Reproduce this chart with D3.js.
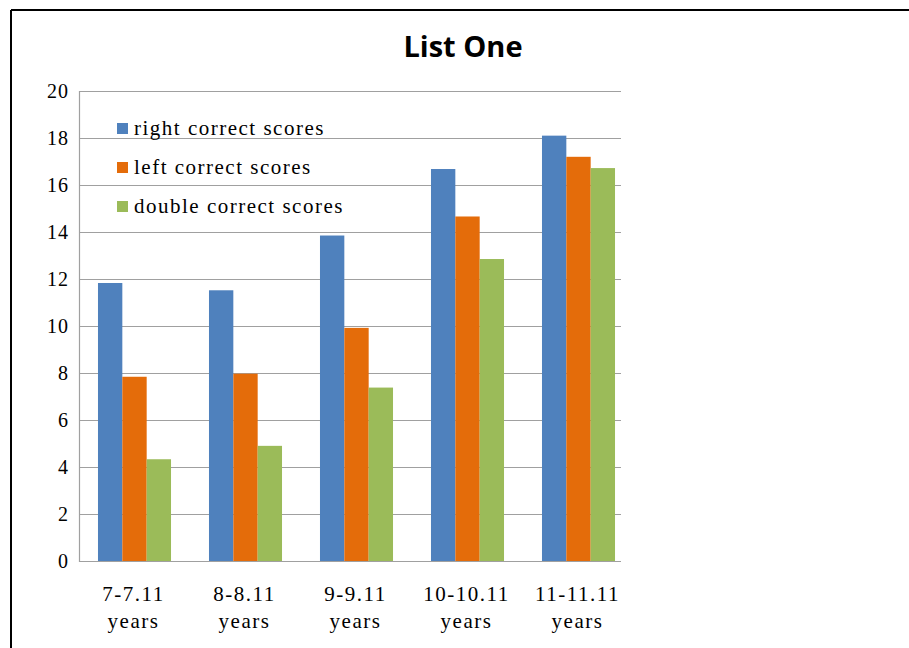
<!DOCTYPE html>
<html>
<head>
<meta charset="utf-8">
<script src="https://cdn.jsdelivr.net/npm/d3@7"></script>
<style>
  body { margin: 0; background: #fff; }
  svg text { font-family: "Liberation Serif", "Times New Roman", serif; }
</style>
</head>
<body>
<svg id="chart" width="909" height="648"></svg>
<script>
var categories = [["7-7.11", "years"], ["8-8.11", "years"], ["9-9.11", "years"], ["10-10.11", "years"], ["11-11.11", "years"]];
var seriesNames = ["right correct scores", "left correct scores", "double correct scores"];
var seriesColors = ["#4f81bd", "#e46c0a", "#9bbb59"];
var rightScores = [11.83, 11.52, 13.85, 16.68, 18.1];
var leftScores = [7.84, 7.97, 9.92, 14.66, 17.2];
var doubleScores = [4.33, 4.9, 7.38, 12.85, 16.72];
var yTicks = [0, 2, 4, 6, 8, 10, 12, 14, 16, 18, 20];

var allSeries = [rightScores, leftScores, doubleScores];

var svg = d3.select("svg#chart");

// outer frame (only top and left edges show in the crop)
svg.append("line").attr("x1", 11).attr("y1", 10).attr("x2", 909).attr("y2", 10)
  .attr("stroke", "#000").attr("stroke-width", 2);
svg.append("line").attr("x1", 11).attr("y1", 10).attr("x2", 11).attr("y2", 648)
  .attr("stroke", "#000").attr("stroke-width", 2);

var plotLeft = 79, plotRight = 621, plotTop = 91, plotBottom = 561;

// categories sit a little wider than the gridlines
var x = d3.scaleBand()
  .domain(d3.range(categories.length))
  .range([plotLeft, plotLeft + 5 * 111])
  .paddingInner(0.342)
  .paddingOuter(0.171);

var x1 = d3.scaleBand()
  .domain(d3.range(seriesNames.length))
  .range([0, x.bandwidth()]);

var y = d3.scaleLinear().domain([0, 20]).range([plotBottom, plotTop]);

// gridlines
svg.selectAll("line.grid")
  .data(yTicks)
  .enter().append("line")
  .attr("class", "grid")
  .attr("x1", plotLeft)
  .attr("x2", plotRight)
  .attr("y1", d => y(d) + 0.5)
  .attr("y2", d => y(d) + 0.5)
  .attr("stroke", "#a0a0a0")
  .attr("stroke-width", 1.2);

// y axis line
svg.append("line")
  .attr("x1", plotLeft + 0.5).attr("x2", plotLeft + 0.5)
  .attr("y1", plotTop).attr("y2", plotBottom + 1)
  .attr("stroke", "#a0a0a0").attr("stroke-width", 1.2);

// y labels
svg.selectAll("text.ylab")
  .data(yTicks)
  .enter().append("text")
  .attr("class", "ylab")
  .attr("x", 69)
  .attr("y", d => y(d))
  .attr("dy", "0.35em")
  .attr("text-anchor", "end")
  .attr("font-size", 20)
  .attr("letter-spacing", 1)
  .attr("fill", "#000")
  .text(d => d);

// bars
var groups = svg.selectAll("g.series")
  .data(allSeries)
  .enter().append("g")
  .attr("class", "series")
  .attr("fill", (d, i) => seriesColors[i]);

groups.each(function(vals, si) {
  d3.select(this).selectAll("rect")
    .data(vals)
    .enter().append("rect")
    .attr("x", (d, ci) => x(ci) + x1(si))
    .attr("y", d => y(d))
    .attr("width", x1.bandwidth())
    .attr("height", d => y(0) - y(d));
});

// x labels
var xlab = svg.selectAll("text.xlab")
  .data(categories)
  .enter().append("text")
  .attr("class", "xlab")
  .attr("x", (d, i) => x(i) + x.bandwidth() / 2 - 1)
  .attr("y", 601)
  .attr("text-anchor", "middle")
  .attr("font-size", 21)
  .attr("letter-spacing", 1.5)
  .attr("fill", "#000");

xlab.selectAll("tspan")
  .data(d => d)
  .enter().append("tspan")
  .attr("x", function() { return d3.select(this.parentNode).attr("x"); })
  .attr("dy", (d, i) => i === 0 ? 0 : 27)
  .text(d => d);

// legend
var legend = svg.selectAll("g.legend")
  .data(seriesNames)
  .enter().append("g")
  .attr("class", "legend")
  .attr("transform", (d, i) => "translate(117," + (128 + i * 39) + ")");

legend.append("rect")
  .attr("x", 0).attr("y", -5)
  .attr("width", 11).attr("height", 11)
  .attr("fill", (d, i) => seriesColors[i]);

legend.append("text")
  .attr("x", 17)
  .attr("y", 0)
  .attr("dy", "0.35em")
  .attr("font-size", 21)
  .attr("letter-spacing", 1.5)
  .attr("fill", "#000")
  .text(d => d);

// title
svg.append("text")
  .attr("x", 463)
  .attr("y", 57)
  .attr("text-anchor", "middle")
  .style("font-family", "'Open Sans', sans-serif")
  .attr("font-weight", "bold")
  .attr("font-size", 29)
  .attr("fill", "#000")
  .text("List One");
</script>
</body>
</html>
